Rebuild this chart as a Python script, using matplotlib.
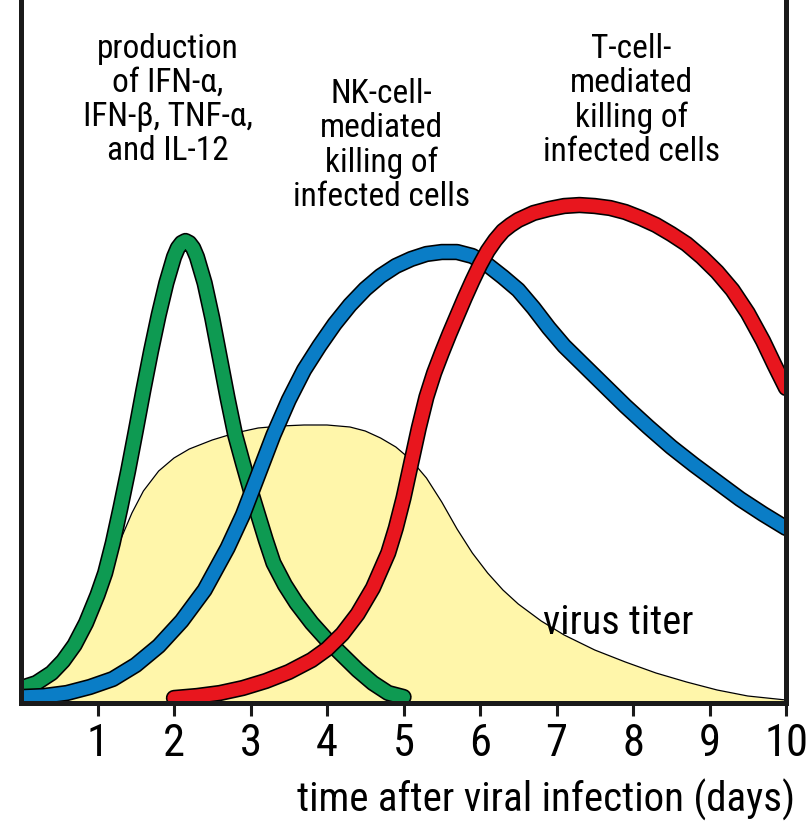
import matplotlib
matplotlib.use("Agg")
import matplotlib.pyplot as plt
import matplotlib.patheffects as pe
from matplotlib import font_manager

avail = {f.name for f in font_manager.fontManager.ttflist}
fam = None
for cand in ["Liberation Sans Narrow", "DejaVu Sans Condensed", "Roboto Condensed", "Liberation Sans"]:
    if cand in avail:
        fam = cand
        break
plt.rcParams['font.family'] = [fam, 'DejaVu Sans']

# ---- data ----
virus_x = [0.0, 0.3, 0.6, 0.9, 1.1, 1.3, 1.45, 1.6, 1.8, 2.0, 2.2, 2.5, 2.8, 3.1, 3.4, 3.7, 4.0, 4.3, 4.5, 4.7,
           4.9, 5.1, 5.3, 5.5, 5.7, 5.9, 6.1, 6.3, 6.5, 6.8, 7.1, 7.5, 7.9, 8.3, 8.7, 9.1, 9.5, 10.0]
virus_y = [0, 20, 50, 92, 125, 163, 190, 212, 232, 245, 254, 263, 270, 275, 277, 278, 278, 276, 272, 265,
           256, 243, 225, 201, 174, 150, 130, 113, 99, 82, 68, 53, 41, 30, 21, 13, 7, 3]

cyto_x = [0.0, 0.2, 0.4, 0.55, 0.7, 0.85, 1.0, 1.1, 1.2, 1.3, 1.4, 1.5, 1.6, 1.7, 1.8, 1.9, 2.0, 2.05, 2.1, 2.15,
          2.2, 2.25, 2.3, 2.4, 2.5, 2.6, 2.7, 2.8, 2.9, 3.0, 3.1, 3.2, 3.3, 3.45, 3.6, 3.8, 4.0, 4.2, 4.4, 4.6, 4.8, 5.0]
cyto_y = [15, 20, 30, 42, 58, 80, 108, 130, 160, 195, 232, 272, 313, 352, 388, 420, 446, 455, 460, 462,
          460, 455, 446, 420, 385, 345, 305, 268, 240, 213, 188, 163, 140, 118, 100, 80, 63, 48, 33, 20, 10, 6]

nk_x = [0.0, 0.3, 0.6, 0.9, 1.2, 1.5, 1.8, 2.1, 2.4, 2.7, 2.9, 3.1, 3.3, 3.5, 3.7, 3.9, 4.1, 4.3, 4.5, 4.7,
        4.9, 5.1, 5.3, 5.5, 5.7, 5.9, 6.1, 6.3, 6.5, 6.7, 6.9, 7.1, 7.3, 7.5, 7.7, 7.9, 8.2, 8.5, 8.8, 9.1,
        9.4, 9.7, 10.0]
nk_y = [6, 7, 10, 16, 24, 38, 57, 82, 113, 155, 188, 228, 268, 303, 333, 357, 379, 398, 414, 427,
        437, 444, 449, 451, 451, 447, 438, 426, 413, 395, 375, 357, 342, 327, 312, 297, 276, 256, 238, 221,
        204, 189, 175]

tcell_x = [2.0, 2.3, 2.6, 2.9, 3.2, 3.5, 3.8, 4.0, 4.2, 4.4, 4.6, 4.8, 4.9, 5.0, 5.1, 5.2, 5.3, 5.4, 5.5, 5.6,
           5.7, 5.8, 5.9, 6.0, 6.1, 6.2, 6.3, 6.4, 6.5, 6.7, 6.9, 7.1, 7.3, 7.5, 7.7, 7.9, 8.1, 8.3, 8.5, 8.7,
           8.9, 9.1, 9.3, 9.5, 9.7, 9.85, 10.0]
tcell_y = [5, 7, 10, 15, 22, 31, 43, 54, 69, 89, 115, 150, 175, 205, 240, 275, 306, 330, 350, 369,
           387, 405, 422, 438, 452, 463, 472, 478, 483, 490, 494, 497, 498, 497, 495, 491, 485, 478, 469, 459,
           446, 431, 413, 390, 362, 338, 315]

tick_vals = [1, 2, 3, 4, 5, 6, 7, 8, 9, 10]
tick_labels = ["1", "2", "3", "4", "5", "6", "7", "8", "9", "10"]

label_cyto = "production\nof IFN-\u03b1,\nIFN-\u03b2, TNF-\u03b1,\nand IL-12"
label_nk = "NK-cell-\nmediated\nkilling of\ninfected cells"
label_t = "T-cell-\nmediated\nkilling of\ninfected cells"
label_virus = "virus titer"
xlabel = "time after viral infection (days)"

# ---- styles ----
YELLOW = "#FFF6AA"
GREEN = "#0E9A52"
BLUE = "#0A7DC6"
RED = "#E8161E"

fig = plt.figure(figsize=(8.08, 8.36), dpi=100)
ax = fig.add_axes([21/808, (836-703)/836, (786-21)/808, 703/836])
ax.set_xlim(0, 10)
ax.set_ylim(0, 703)

ax.fill_between(virus_x, virus_y, 0, color=YELLOW, lw=0, zorder=1)
ax.plot(virus_x, virus_y, color="black", lw=0.9, zorder=1.5)

def band(x, y, color, z):
    ax.plot(x, y, color=color, lw=9.5, solid_capstyle="round", solid_joinstyle="round",
            zorder=z,
            path_effects=[pe.Stroke(linewidth=11.8, foreground="black", capstyle="round", joinstyle="round"), pe.Normal()])

band(cyto_x, cyto_y, GREEN, 3)
band(nk_x, nk_y, BLUE, 4)
band(tcell_x, tcell_y, RED, 5)

fs = 24
ax.text(1.92, 670, label_cyto, ha="center", va="top", fontsize=fs, linespacing=1.08, zorder=6)
ax.text(4.71, 625, label_nk, ha="center", va="top", fontsize=fs, linespacing=1.08, zorder=6)
ax.text(7.98, 670, label_t, ha="center", va="top", fontsize=fs, linespacing=1.08, zorder=6)
ax.text(7.81, 81, label_virus, ha="center", va="center", fontsize=29, zorder=6)

ax.spines["top"].set_visible(False)
for s in ["left", "right", "bottom"]:
    ax.spines[s].set_linewidth(3.6)
    ax.spines[s].set_color("#1a1a1a")
    ax.spines[s].set_zorder(10)

ax.set_yticks([])
ax.set_xticks(tick_vals)
ax.set_xticklabels(tick_labels, fontsize=32)
ax.tick_params(axis="x", direction="out", length=9.5, width=2.2, color="#1a1a1a", pad=5)

fig.text(795/808, 1 - 800/836, xlabel, ha="right", va="center", fontsize=29.5)

fig.savefig("out.png", dpi=100)
